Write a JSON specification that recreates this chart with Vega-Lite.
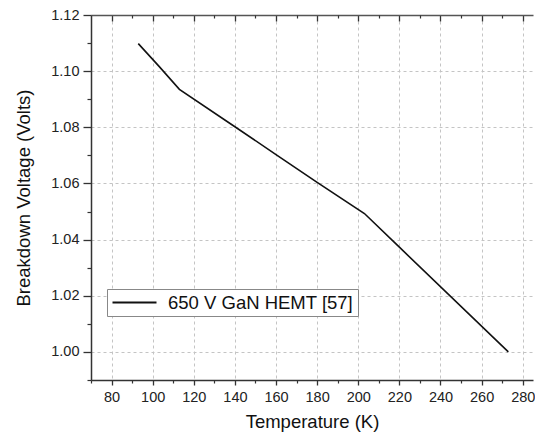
{
  "$schema": "https://vega.github.io/schema/vega-lite/v6.json",
  "width": 442,
  "height": 365,
  "autosize": {"type": "none"},
  "padding": {"left": 91, "top": 15, "right": 2, "bottom": 58},
  "background": "white",
  "config": {
    "view": {"stroke": null},
    "font": "Liberation Sans",
    "axis": {"domainColor": "#333333", "tickColor": "#333333", "labelColor": "#222222", "titleColor": "#111111", "labelFont": "Liberation Sans", "titleFont": "Liberation Sans", "titleFontWeight": "normal"}
  },
  "data": {
    "values": [
      {"T": 93, "V": 1.1098, "series": "650 V GaN HEMT [57]"},
      {"T": 103, "V": 1.1018, "series": "650 V GaN HEMT [57]"},
      {"T": 113, "V": 1.0935, "series": "650 V GaN HEMT [57]"},
      {"T": 140, "V": 1.0802, "series": "650 V GaN HEMT [57]"},
      {"T": 160, "V": 1.0703, "series": "650 V GaN HEMT [57]"},
      {"T": 180, "V": 1.0604, "series": "650 V GaN HEMT [57]"},
      {"T": 203, "V": 1.0493, "series": "650 V GaN HEMT [57]"},
      {"T": 220, "V": 1.0373, "series": "650 V GaN HEMT [57]"},
      {"T": 273, "V": 1.0, "series": "650 V GaN HEMT [57]"}
    ]
  },
  "resolve": {"axis": {"x": "independent", "y": "independent"}},
  "layer": [
    {
      "mark": {"type": "line", "strokeWidth": 1.6},
      "encoding": {
        "x": {"field": "T", "type": "quantitative", "scale": {"domain": [70, 285], "nice": false, "zero": false},
          "axis": {"orient": "bottom", "title": "Temperature (K)", "values": [80, 100, 120, 140, 160, 180, 200, 220, 240, 260, 280], "tickSize": 5, "labelFontSize": 14.5, "titleFontSize": 18.5, "labelPadding": 5, "titlePadding": 9, "grid": true, "gridDash": [3, 3], "gridColor": "#c4c4c4", "domainWidth": 1.5, "tickWidth": 1.3}},
        "y": {"field": "V", "type": "quantitative", "scale": {"domain": [0.99, 1.12], "nice": false, "zero": false},
          "axis": {"orient": "left", "title": "Breakdown Voltage (Volts)", "values": [1.0, 1.02, 1.04, 1.06, 1.08, 1.1, 1.12], "format": ".2f", "tickSize": 8, "labelFontSize": 14.5, "titleFontSize": 18.5, "labelPadding": 4, "titlePadding": 17, "grid": true, "gridDash": [3, 3], "gridColor": "#c4c4c4", "domainWidth": 1.5, "tickWidth": 1.3}},
        "color": {"field": "series", "type": "nominal", "scale": {"range": ["#111111"]},
          "legend": {"title": null, "orient": "none", "legendX": 16, "legendY": 274, "symbolType": "stroke", "symbolSize": 1936, "symbolStrokeWidth": 2.2, "clipHeight": 19, "labelFontSize": 18.5, "labelLimit": 0, "labelColor": "#111111", "labelFont": "Liberation Sans", "strokeColor": "#888888", "fillColor": "white", "padding": 4, "labelOffset": 10, "rowPadding": 0}}
      }
    },
    {
      "mark": {"type": "line", "strokeOpacity": 0},
      "encoding": {
        "x": {"field": "T", "type": "quantitative", "axis": {"orient": "bottom", "title": null, "labels": false, "grid": false, "domain": false, "values": [70, 90, 110, 130, 150, 170, 190, 210, 230, 250, 270], "tickSize": 3, "tickWidth": 1.2}},
        "y": {"field": "V", "type": "quantitative", "axis": {"orient": "left", "title": null, "labels": false, "grid": false, "domain": false, "values": [0.99, 1.01, 1.03, 1.05, 1.07, 1.09, 1.11], "tickSize": 4, "tickWidth": 1.2}}
      }
    },
    {
      "mark": {"type": "line", "strokeOpacity": 0},
      "encoding": {
        "x": {"field": "T", "type": "quantitative", "axis": {"orient": "top", "title": null, "labels": false, "grid": false, "domainWidth": 1.5, "domainColor": "#555555", "values": [80, 100, 120, 140, 160, 180, 200, 220, 240, 260, 280], "tickSize": -6, "tickWidth": 1.3}}
      }
    },
    {
      "mark": {"type": "line", "strokeOpacity": 0},
      "encoding": {
        "x": {"field": "T", "type": "quantitative", "axis": {"orient": "top", "title": null, "labels": false, "grid": false, "domain": false, "values": [90, 110, 130, 150, 170, 190, 210, 230, 250, 270], "tickSize": -3, "tickWidth": 1.2}}
      }
    }
  ]
}
